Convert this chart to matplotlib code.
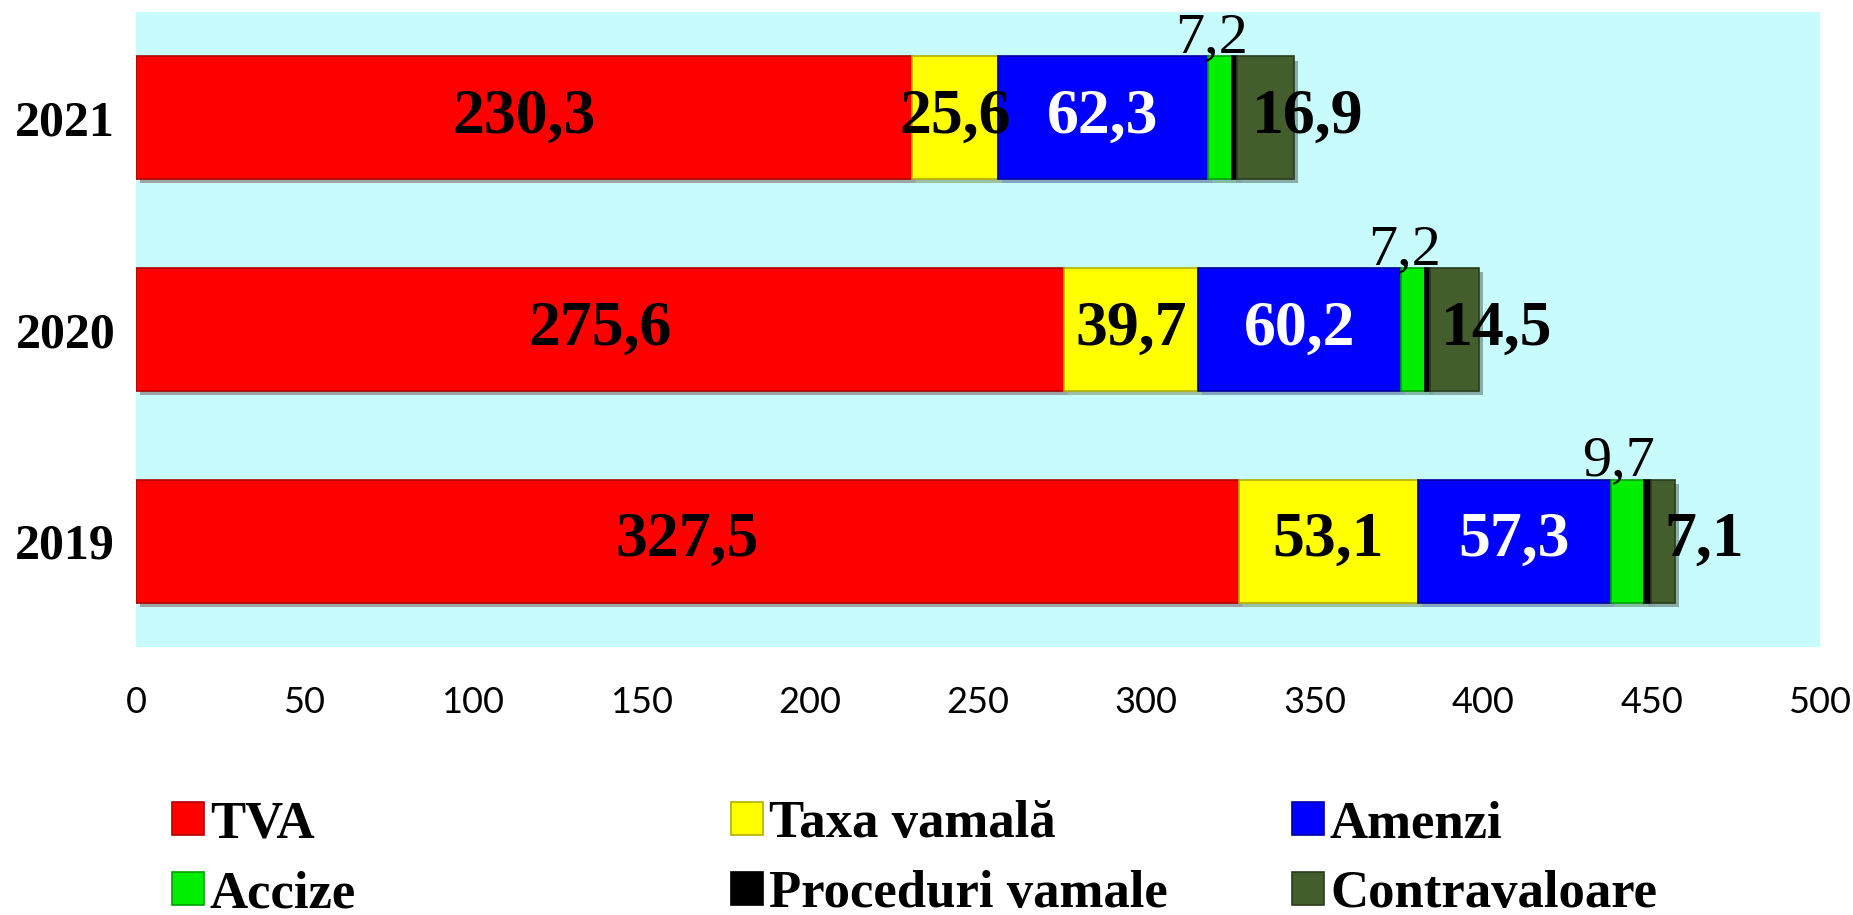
import matplotlib
matplotlib.use("Agg")
import matplotlib.pyplot as plt
from matplotlib.patches import Patch
import matplotlib.patheffects as pe
import numpy as np

years = ["2019", "2020", "2021"]
series_names = ["TVA", "Taxa vamală", "Amenzi", "Accize", "Proceduri vamale", "Contravaloare"]
tva = [327.5, 275.6, 230.3]
taxa = [53.1, 39.7, 25.6]
amenzi = [57.3, 60.2, 62.3]
accize = [9.7, 7.2, 7.2]
proceduri = [2.2, 1.6, 1.6]
contra = [7.1, 14.5, 16.9]
xticks = [0, 50, 100, 150, 200, 250, 300, 350, 400, 450, 500]

colors = ["#FF0000", "#FFFF00", "#0000FF", "#00EE00", "#000000", "#435E2C"]
edges = ["#B00000", "#B0B000", "#0000A0", "#00A000", "#000000", "#2A3D1C"]
serif = ["Liberation Serif", "DejaVu Serif"]

W, H = 1853, 915
fig = plt.figure(figsize=(W/100, H/100), dpi=100)
ax = fig.add_axes([136/W, 1-647/H, (1820-136)/W, (647-12)/H])
ax.set_facecolor("#C8FCFC")
for s in ax.spines.values():
    s.set_visible(False)

data = [tva, taxa, amenzi, accize, proceduri, contra]
y = np.arange(len(years))
left = np.zeros(len(years))
bars = []
shadow = [pe.SimplePatchShadow(offset=(3, -3), alpha=0.35), pe.Normal()]
for vals, c, e in zip(data, colors, edges):
    b = ax.barh(y, vals, left=left, height=0.58, color=c, edgecolor=e, linewidth=1.2, zorder=3)
    for r in b:
        r.set_path_effects(shadow)
    bars.append(b)
    left = left + np.array(vals)

def fmt(v):
    return f"{v:.1f}".replace(".", ",")

for i in range(len(years)):
    for k, txtcol in [(0, "black"), (1, "black"), (2, "white")]:
        rect = bars[k][i]
        cx = rect.get_x() + rect.get_width() / 2
        ax.text(cx, y[i], fmt(data[k][i]), ha="center", va="center",
                fontsize=46, fontweight="bold", color=txtcol, family=serif, zorder=5)
    rect = bars[3][i]
    cx = rect.get_x() + rect.get_width() / 2
    ax.annotate(fmt(accize[i]), (cx, y[i] + 0.29), xytext=(-6, 3),
                textcoords="offset points", ha="center", va="baseline", fontsize=42,
                family=serif, color="black", zorder=5)
    rect = bars[5][i]
    cx = rect.get_x() + rect.get_width() / 2
    ax.annotate(fmt(contra[i]), (cx, y[i]), xytext=(30, 0),
                textcoords="offset points", ha="center", va="center", fontsize=46,
                fontweight="bold", family=serif, color="black", zorder=5)

ax.set_xlim(0, 500)
ax.set_ylim(-0.5, 2.5)
ax.set_xticks(xticks)
ax.set_xticklabels([str(t) for t in xticks], fontsize=26, family=["Lato", "DejaVu Sans"])
ax.set_yticks(y)
ax.set_yticklabels(years, fontsize=36, fontweight="bold", family=serif)
ax.tick_params(axis="both", length=0)
ax.tick_params(axis="x", pad=28)
ax.tick_params(axis="y", pad=15)

handles = [Patch(facecolor=c, edgecolor=e, linewidth=1.2) for c, e in zip(colors, edges)]
col_x = [172, 731, 1292]
for j in range(3):
    hs = [handles[j], handles[j + 3]]
    ls = [series_names[j], series_names[j + 3]]
    fig.legend(hs, ls, loc="upper left", bbox_to_anchor=(col_x[j]/W, 1-800/H),
               frameon=False, prop={"family": serif, "size": 38, "weight": "bold"},
               handlelength=0.6, handleheight=0.6, handletextpad=0.12,
               labelspacing=0.42, borderaxespad=0, borderpad=0)

fig.savefig("out.png", dpi=100, facecolor="white")
